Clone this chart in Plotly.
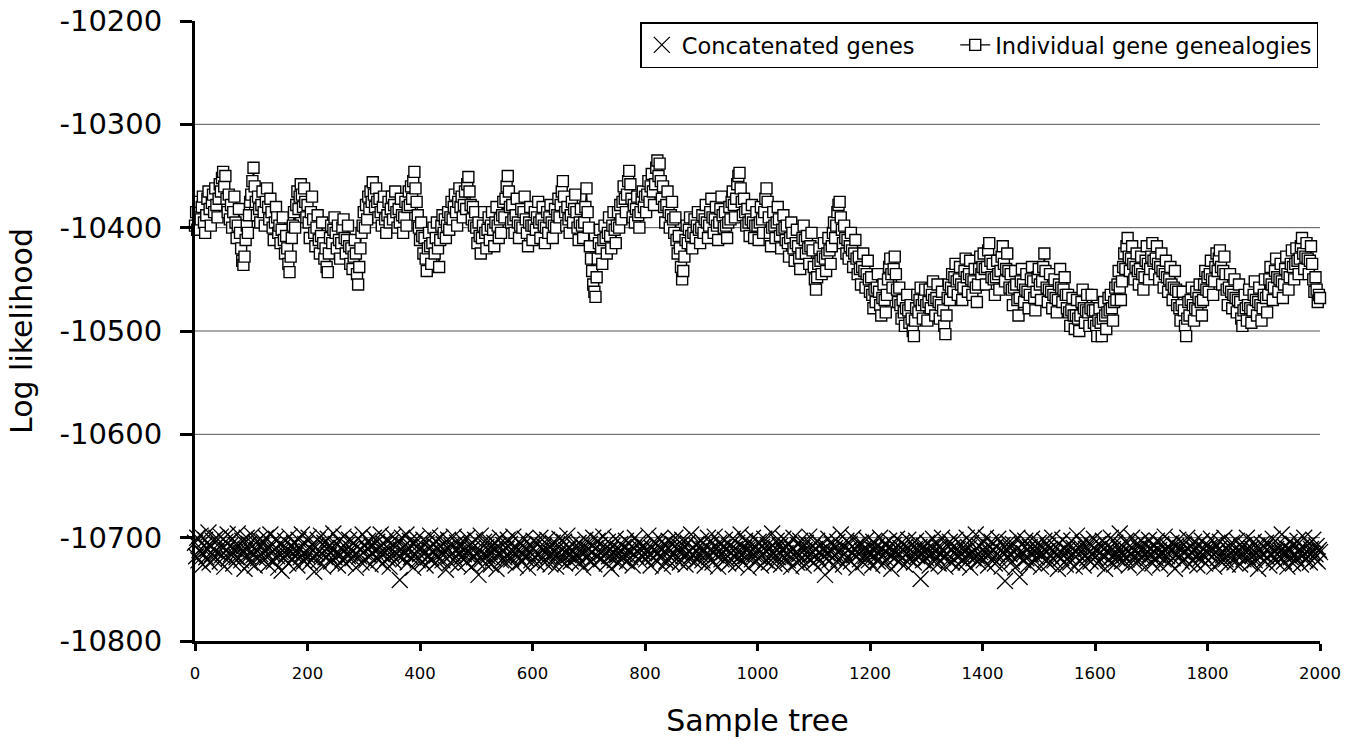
import plotly.graph_objects as go

sample_step = 2
x_tick_vals = [0, 200, 400, 600, 800, 1000, 1200, 1400, 1600, 1800, 2000]
y_tick_vals = [-10800, -10700, -10600, -10500, -10400, -10300, -10200]
y_tick_text = ["-10800", "-10700", "-10600", "-10500", "-10400", "-10300", "-10200"]
grid_vals = [-10700, -10600, -10500, -10400, -10300]

individual = [
    -10398,-10385,-10402,-10390,-10375,-10392,-10380,-10370,-10395,-10405,-10388,-10372,-10365,-10382,-10398,-10376,-10368,-10385,-10362,-10378,-10390,-10372,-10358,-10365,-10352,
    -10346,-10360,-10350,-10372,-10385,-10368,-10392,-10378,-10400,-10385,-10370,-10395,-10410,-10398,-10382,-10405,-10420,-10432,-10436,-10428,-10412,-10398,-10405,-10388,-10375,
    -10368,-10355,-10342,-10360,-10375,-10388,-10370,-10382,-10395,-10378,-10365,-10385,-10398,-10375,-10362,-10380,-10392,-10372,-10385,-10400,-10412,-10395,-10380,-10390,-10405,
    -10398,-10415,-10402,-10390,-10412,-10425,-10408,-10420,-10435,-10443,-10428,-10410,-10398,-10385,-10400,-10378,-10365,-10382,-10370,-10358,-10368,-10380,-10362,-10375,-10390,
    -10378,-10395,-10410,-10385,-10370,-10392,-10405,-10418,-10400,-10388,-10412,-10425,-10408,-10395,-10415,-10430,-10420,-10438,-10443,-10425,-10410,-10398,-10415,-10402,-10390,
    -10405,-10420,-10398,-10412,-10430,-10415,-10400,-10392,-10410,-10425,-10412,-10398,-10418,-10435,-10420,-10440,-10428,-10412,-10425,-10445,-10455,-10438,-10420,-10405,-10398,
    -10385,-10400,-10378,-10392,-10370,-10382,-10365,-10375,-10356,-10368,-10380,-10362,-10375,-10390,-10372,-10385,-10398,-10380,-10370,-10392,-10405,-10388,-10375,-10395,-10382,
    -10370,-10392,-10378,-10365,-10385,-10400,-10382,-10395,-10372,-10388,-10405,-10390,-10375,-10398,-10380,-10365,-10378,-10360,-10372,-10355,-10346,-10362,-10375,-10388,-10400,
    -10412,-10395,-10408,-10425,-10410,-10430,-10442,-10420,-10405,-10418,-10435,-10415,-10400,-10425,-10410,-10395,-10420,-10438,-10412,-10398,-10388,-10405,-10392,-10410,-10398,
    -10385,-10402,-10390,-10375,-10392,-10380,-10368,-10385,-10398,-10375,-10362,-10380,-10370,-10390,-10378,-10365,-10382,-10358,-10351,-10365,-10378,-10392,-10380,-10398,-10385,
    -10400,-10415,-10395,-10408,-10425,-10410,-10398,-10385,-10405,-10420,-10402,-10390,-10412,-10398,-10385,-10402,-10418,-10395,-10380,-10398,-10410,-10392,-10405,-10388,-10375,
    -10390,-10372,-10360,-10350,-10365,-10380,-10395,-10378,-10392,-10405,-10388,-10372,-10395,-10410,-10398,-10382,-10400,-10385,-10370,-10392,-10405,-10418,-10395,-10380,-10398,
    -10412,-10398,-10385,-10402,-10390,-10375,-10395,-10410,-10392,-10380,-10398,-10415,-10400,-10385,-10405,-10390,-10378,-10395,-10410,-10398,-10382,-10400,-10388,-10372,-10390,
    -10378,-10365,-10355,-10370,-10385,-10398,-10380,-10392,-10405,-10388,-10375,-10395,-10382,-10368,-10385,-10400,-10412,-10395,-10382,-10398,-10410,-10395,-10380,-10362,-10385,
    -10400,-10418,-10430,-10442,-10455,-10462,-10467,-10448,-10430,-10415,-10402,-10420,-10435,-10412,-10398,-10410,-10425,-10405,-10390,-10408,-10420,-10398,-10385,-10402,-10415,
    -10398,-10385,-10400,-10378,-10392,-10375,-10360,-10372,-10385,-10368,-10355,-10345,-10358,-10372,-10390,-10378,-10395,-10382,-10370,-10388,-10400,-10385,-10372,-10365,-10380,
    -10370,-10385,-10368,-10355,-10375,-10360,-10348,-10365,-10378,-10358,-10342,-10335,-10350,-10338,-10355,-10372,-10360,-10380,-10395,-10378,-10365,-10385,-10400,-10388,-10375,
    -10392,-10405,-10390,-10412,-10425,-10408,-10420,-10438,-10450,-10442,-10428,-10412,-10398,-10415,-10402,-10390,-10408,-10420,-10405,-10392,-10410,-10398,-10385,-10402,-10415,
    -10400,-10388,-10405,-10392,-10378,-10395,-10410,-10398,-10385,-10372,-10390,-10405,-10392,-10380,-10398,-10412,-10395,-10382,-10370,-10388,-10400,-10385,-10398,-10410,-10395,
    -10380,-10392,-10375,-10365,-10378,-10390,-10372,-10358,-10350,-10347,-10362,-10375,-10388,-10372,-10385,-10398,-10382,-10395,-10408,-10392,-10378,-10395,-10410,-10398,-10385,
    -10398,-10412,-10395,-10380,-10392,-10405,-10385,-10372,-10362,-10375,-10390,-10405,-10418,-10400,-10385,-10398,-10410,-10395,-10380,-10392,-10408,-10420,-10402,-10388,-10400,
    -10412,-10398,-10415,-10428,-10410,-10395,-10405,-10420,-10432,-10415,-10402,-10418,-10430,-10440,-10425,-10410,-10398,-10412,-10425,-10408,-10420,-10435,-10418,-10405,-10422,
    -10438,-10450,-10460,-10448,-10435,-10420,-10432,-10445,-10428,-10415,-10430,-10442,-10425,-10410,-10422,-10435,-10418,-10405,-10395,-10410,-10398,-10385,-10378,-10375,-10390,
    -10402,-10415,-10398,-10410,-10425,-10412,-10430,-10418,-10405,-10422,-10438,-10425,-10412,-10430,-10445,-10428,-10440,-10455,-10438,-10425,-10442,-10458,-10445,-10432,-10450,
    -10462,-10448,-10465,-10478,-10460,-10472,-10458,-10445,-10462,-10475,-10485,-10468,-10455,-10470,-10482,-10465,-10450,-10438,-10430,-10445,-10458,-10440,-10428,-10445,-10460,
    -10472,-10458,-10475,-10488,-10470,-10482,-10495,-10478,-10465,-10480,-10492,-10475,-10488,-10500,-10505,-10490,-10478,-10465,-10482,-10470,-10458,-10475,-10488,-10470,-10460,
    -10475,-10490,-10472,-10460,-10478,-10465,-10452,-10470,-10485,-10468,-10455,-10472,-10488,-10475,-10462,-10480,-10495,-10503,-10485,-10468,-10455,-10470,-10458,-10445,-10462,
    -10448,-10435,-10452,-10465,-10450,-10438,-10455,-10470,-10458,-10442,-10430,-10448,-10462,-10445,-10432,-10450,-10465,-10452,-10440,-10458,-10472,-10455,-10440,-10428,-10445,
    -10438,-10425,-10440,-10455,-10438,-10422,-10415,-10432,-10448,-10435,-10450,-10465,-10448,-10432,-10445,-10460,-10442,-10428,-10418,-10435,-10452,-10440,-10425,-10442,-10458,
    -10445,-10460,-10475,-10458,-10442,-10455,-10470,-10485,-10468,-10452,-10440,-10455,-10472,-10460,-10445,-10462,-10478,-10465,-10450,-10438,-10452,-10468,-10480,-10462,-10448,
    -10440,-10455,-10470,-10452,-10438,-10425,-10442,-10458,-10472,-10460,-10445,-10462,-10478,-10465,-10450,-10468,-10482,-10470,-10455,-10440,-10458,-10472,-10460,-10448,-10465,
    -10478,-10465,-10482,-10495,-10480,-10468,-10485,-10498,-10485,-10470,-10488,-10500,-10485,-10472,-10460,-10478,-10492,-10480,-10465,-10482,-10495,-10478,-10465,-10480,-10492,
    -10480,-10495,-10505,-10490,-10478,-10492,-10505,-10488,-10472,-10485,-10498,-10482,-10468,-10480,-10465,-10478,-10490,-10472,-10458,-10470,-10455,-10442,-10458,-10470,-10452,
    -10438,-10425,-10440,-10418,-10410,-10428,-10442,-10430,-10418,-10435,-10450,-10438,-10425,-10442,-10455,-10440,-10428,-10445,-10460,-10448,-10432,-10418,-10435,-10450,-10440,
    -10428,-10415,-10432,-10445,-10430,-10418,-10435,-10450,-10438,-10425,-10442,-10458,-10445,-10432,-10448,-10462,-10450,-10438,-10455,-10470,-10458,-10442,-10460,-10475,-10462,
    -10478,-10490,-10475,-10462,-10480,-10495,-10505,-10488,-10472,-10485,-10470,-10458,-10475,-10490,-10478,-10462,-10480,-10468,-10455,-10472,-10485,-10470,-10455,-10442,-10460,
    -10448,-10462,-10445,-10432,-10450,-10465,-10452,-10438,-10425,-10442,-10430,-10422,-10438,-10455,-10442,-10428,-10445,-10460,-10475,-10458,-10445,-10462,-10478,-10465,-10450,
    -10468,-10482,-10470,-10455,-10472,-10488,-10495,-10480,-10465,-10478,-10490,-10475,-10460,-10478,-10492,-10480,-10465,-10452,-10470,-10485,-10472,-10458,-10475,-10490,-10478,
    -10465,-10450,-10468,-10482,-10465,-10450,-10438,-10455,-10470,-10458,-10442,-10430,-10448,-10462,-10450,-10435,-10452,-10468,-10455,-10440,-10428,-10445,-10460,-10448,-10435,
    -10422,-10438,-10450,-10435,-10420,-10432,-10445,-10430,-10418,-10410,-10425,-10440,-10428,-10415,-10430,-10445,-10432,-10418,-10435,-10450,-10462,-10448,-10460,-10472,-10465,
    -10468,
]

concatenated = [
    -10705,-10718,-10700,-10722,-10712,-10698,-10715,-10726,-10708,-10702,-10719,-10711,-10695,-10724,-10709,-10716,-10703,-10721,-10713,-10700,-10714,-10706,-10723,-10699,-10717,
    -10710,-10728,-10704,-10712,-10697,-10720,-10708,-10716,-10701,-10725,-10711,-10707,-10719,-10696,-10713,-10709,-10722,-10703,-10715,-10730,-10711,-10700,-10718,-10706,-10724,
    -10713,-10698,-10717,-10727,-10705,-10712,-10720,-10702,-10716,-10708,-10721,-10704,-10713,-10700,-10719,-10726,-10710,-10697,-10715,-10707,-10723,-10712,-10701,-10718,-10729,
    -10706,-10714,-10732,-10709,-10720,-10703,-10716,-10711,-10725,-10699,-10714,-10708,-10721,-10705,-10717,-10712,-10727,-10702,-10710,-10719,-10697,-10715,-10723,-10706,-10713,
    -10718,-10700,-10724,-10711,-10707,-10720,-10733,-10709,-10715,-10702,-10722,-10713,-10698,-10716,-10728,-10705,-10719,-10710,-10701,-10717,-10708,-10723,-10712,-10696,-10719,
    -10706,-10714,-10727,-10703,-10716,-10710,-10721,-10699,-10713,-10725,-10707,-10718,-10702,-10715,-10711,-10720,-10705,-10716,-10729,-10709,-10701,-10718,-10712,-10724,-10697,
    -10714,-10707,-10722,-10711,-10703,-10717,-10726,-10708,-10715,-10700,-10713,-10719,-10704,-10722,-10710,-10697,-10716,-10725,-10706,-10714,-10702,-10720,-10711,-10728,-10705,
    -10717,-10699,-10723,-10709,-10715,-10704,-10718,-10741,-10712,-10700,-10721,-10708,-10715,-10697,-10724,-10710,-10703,-10719,-10713,-10729,-10706,-10717,-10701,-10722,-10711,
    -10716,-10709,-10723,-10702,-10714,-10727,-10705,-10719,-10711,-10698,-10720,-10713,-10707,-10725,-10703,-10717,-10710,-10721,-10700,-10715,-10722,-10706,-10713,-10731,-10710,
    -10702,-10718,-10724,-10708,-10715,-10699,-10720,-10712,-10705,-10726,-10714,-10709,-10719,-10703,-10716,-10711,-10724,-10700,-10717,-10713,-10706,-10728,-10710,-10719,-10702,
    -10715,-10723,-10736,-10712,-10698,-10721,-10716,-10704,-10725,-10709,-10718,-10703,-10714,-10726,-10709,-10720,-10705,-10712,-10730,-10708,-10716,-10700,-10722,-10713,-10707,
    -10719,-10724,-10711,-10702,-10717,-10706,-10721,-10712,-10699,-10715,-10727,-10710,-10718,-10704,-10713,-10723,-10708,-10716,-10701,-10720,-10711,-10729,-10707,-10714,-10722,
    -10710,-10703,-10719,-10713,-10725,-10706,-10716,-10700,-10721,-10712,-10708,-10724,-10714,-10702,-10718,-10709,-10726,-10715,-10705,-10720,-10713,-10728,-10707,-10716,-10701,
    -10722,-10711,-10718,-10704,-10725,-10712,-10698,-10717,-10710,-10723,-10706,-10714,-10721,-10709,-10716,-10719,-10705,-10724,-10712,-10708,-10729,-10715,-10702,-10720,-10711,
    -10717,-10706,-10723,-10714,-10700,-10726,-10710,-10718,-10703,-10713,-10707,-10721,-10714,-10699,-10716,-10710,-10725,-10704,-10718,-10712,-10730,-10708,-10715,-10722,-10701,
    -10717,-10711,-10724,-10706,-10713,-10720,-10709,-10716,-10703,-10723,-10712,-10706,-10719,-10714,-10727,-10710,-10700,-10718,-10713,-10705,-10722,-10711,-10717,-10708,-10715,
    -10709,-10721,-10714,-10698,-10716,-10727,-10710,-10719,-10704,-10713,-10722,-10708,-10715,-10701,-10720,-10711,-10728,-10706,-10714,-10723,-10710,-10703,-10718,-10712,-10725,
    -10706,-10716,-10700,-10721,-10712,-10708,-10724,-10714,-10702,-10718,-10709,-10726,-10715,-10705,-10720,-10713,-10697,-10717,-10710,-10723,-10707,-10714,-10721,-10709,-10716,
    -10703,-10722,-10711,-10727,-10708,-10715,-10700,-10719,-10712,-10706,-10724,-10713,-10699,-10717,-10710,-10728,-10705,-10716,-10721,-10709,-10714,-10702,-10720,-10711,-10725,
    -10708,-10715,-10722,-10701,-10717,-10711,-10726,-10705,-10713,-10719,-10697,-10716,-10724,-10710,-10703,-10718,-10712,-10729,-10707,-10714,-10721,-10700,-10716,-10709,-10723,
    -10712,-10704,-10719,-10727,-10709,-10715,-10701,-10722,-10713,-10707,-10724,-10711,-10718,-10696,-10716,-10725,-10710,-10703,-10719,-10714,-10708,-10726,-10712,-10701,-10720,
    -10715,-10709,-10722,-10706,-10713,-10728,-10711,-10700,-10718,-10714,-10724,-10707,-10716,-10703,-10721,-10710,-10727,-10712,-10705,-10719,-10713,-10699,-10722,-10716,-10708,
    -10724,-10711,-10717,-10703,-10720,-10714,-10707,-10725,-10712,-10718,-10736,-10709,-10715,-10701,-10722,-10713,-10706,-10719,-10728,-10710,-10716,-10704,-10721,-10712,-10697,
    -10718,-10726,-10709,-10715,-10703,-10720,-10712,-10706,-10723,-10714,-10700,-10717,-10711,-10729,-10707,-10716,-10721,-10705,-10713,-10724,-10710,-10718,-10702,-10715,-10722,
    -10709,-10716,-10727,-10704,-10712,-10719,-10708,-10723,-10713,-10700,-10718,-10711,-10725,-10706,-10714,-10721,-10710,-10703,-10717,-10730,-10712,-10707,-10720,-10714,-10701,
    -10716,-10723,-10710,-10705,-10719,-10713,-10726,-10708,-10715,-10702,-10721,-10712,-10717,-10706,-10724,-10711,-10703,-10718,-10714,-10709,-10740,-10715,-10722,-10708,-10713,
    -10720,-10705,-10714,-10727,-10709,-10716,-10701,-10723,-10712,-10718,-10706,-10725,-10710,-10715,-10700,-10719,-10713,-10728,-10707,-10716,-10722,-10704,-10711,-10724,-10709,
    -10714,-10702,-10718,-10711,-10726,-10706,-10716,-10721,-10709,-10713,-10724,-10700,-10717,-10710,-10729,-10705,-10715,-10720,-10712,-10697,-10718,-10723,-10708,-10714,-10719,
    -10706,-10722,-10713,-10700,-10717,-10727,-10709,-10715,-10704,-10720,-10712,-10725,-10708,-10716,-10701,-10721,-10713,-10728,-10707,-10714,-10742,-10711,-10719,-10705,-10716,
    -10710,-10723,-10706,-10714,-10729,-10712,-10700,-10718,-10738,-10713,-10707,-10722,-10715,-10703,-10720,-10711,-10726,-10709,-10716,-10701,-10724,-10713,-10708,-10719,-10712,
    -10705,-10717,-10728,-10710,-10716,-10703,-10721,-10713,-10708,-10725,-10711,-10718,-10700,-10714,-10722,-10709,-10716,-10730,-10706,-10713,-10720,-10702,-10717,-10711,-10726,
    -10712,-10707,-10719,-10724,-10703,-10715,-10710,-10728,-10714,-10698,-10716,-10722,-10709,-10713,-10705,-10727,-10718,-10711,-10720,-10704,-10714,-10723,-10708,-10716,-10701,
    -10719,-10712,-10725,-10706,-10715,-10721,-10709,-10703,-10717,-10730,-10713,-10708,-10722,-10714,-10700,-10718,-10711,-10726,-10705,-10716,-10720,-10710,-10696,-10715,-10723,
    -10709,-10717,-10704,-10721,-10713,-10727,-10708,-10715,-10700,-10719,-10712,-10724,-10706,-10716,-10710,-10722,-10703,-10718,-10713,-10729,-10707,-10714,-10720,-10702,-10716,
    -10711,-10725,-10708,-10714,-10720,-10703,-10717,-10712,-10727,-10706,-10715,-10721,-10699,-10713,-10718,-10709,-10724,-10712,-10705,-10720,-10714,-10730,-10708,-10716,-10702,
    -10719,-10710,-10723,-10714,-10706,-10721,-10713,-10700,-10717,-10726,-10709,-10715,-10722,-10704,-10712,-10718,-10727,-10707,-10714,-10720,-10703,-10716,-10711,-10725,-10708,
    -10715,-10722,-10709,-10701,-10718,-10712,-10728,-10706,-10714,-10720,-10711,-10704,-10723,-10713,-10717,-10700,-10721,-10710,-10726,-10708,-10715,-10719,-10705,-10713,-10724,
    -10711,-10703,-10718,-10714,-10726,-10709,-10716,-10721,-10707,-10713,-10700,-10719,-10712,-10725,-10710,-10717,-10704,-10722,-10715,-10708,-10730,-10713,-10719,-10706,-10716,
    -10722,-10710,-10705,-10719,-10713,-10727,-10708,-10716,-10701,-10720,-10714,-10711,-10724,-10706,-10718,-10712,-10697,-10715,-10723,-10709,-10716,-10728,-10711,-10704,-10719,
    -10713,-10725,-10707,-10716,-10720,-10703,-10714,-10711,-10726,-10709,-10717,-10700,-10722,-10713,-10718,-10706,-10724,-10711,-10715,-10702,-10720,-10716,-10708,-10723,-10712,
    -10714,
]

x_ind = [i * sample_step for i in range(len(individual))]
x_con = [i * sample_step for i in range(len(concatenated))]

FONT = "DejaVu Sans, Liberation Sans, Arial, sans-serif"
NB = "\u00a0"

fig = go.Figure()
fig.add_trace(go.Scatter(
    x=x_con, y=concatenated, mode="markers", name="Concatenated genes" + NB * 5,
    cliponaxis=False,
    marker=dict(symbol="x-thin", size=16, color="black",
                line=dict(color="black", width=1.3)),
))
fig.add_trace(go.Scatter(
    x=x_ind, y=individual, mode="lines+markers", name="Individual gene genealogies",
    cliponaxis=False,
    line=dict(color="black", width=1.2),
    marker=dict(symbol="square", size=11, color="white",
                line=dict(color="black", width=1.4)),
))

for g in grid_vals:
    fig.add_hline(y=g, line=dict(color="#555555", width=1), layer="below")

fig.update_layout(
    width=1353, height=740,
    paper_bgcolor="white", plot_bgcolor="white",
    margin=dict(l=195, r=33, t=21, b=99, autoexpand=False),
    font=dict(family=FONT, color="black"),
    showlegend=True,
    legend=dict(
        orientation="h", x=0.9985, xanchor="right", y=0.998, yanchor="top",
        bordercolor="black", borderwidth=1.5, bgcolor="white",
        font=dict(size=22.5, family=FONT), itemwidth=30,
    ),
    xaxis=dict(
        range=[0, 2000], tickvals=x_tick_vals, ticks="outside", ticklen=7,
        tickwidth=3, tickcolor="black", showgrid=False, automargin=False,
        zeroline=False, showline=True, linecolor="black", linewidth=3,
        ticklabelstandoff=8, ticklabeloverflow="allow",
        tickfont=dict(size=16.5), title=dict(text="Sample tree", font=dict(size=30), standoff=29),
    ),
    yaxis=dict(
        range=[-10800, -10200], tickvals=y_tick_vals, ticktext=y_tick_text,
        ticks="outside", ticklen=12, automargin=False,
        tickwidth=3, tickcolor="black", showgrid=False, zeroline=False,
        showline=True, linecolor="black", linewidth=3, ticklabelstandoff=12,
        ticklabeloverflow="allow",
        tickfont=dict(size=29), title=dict(text="Log likelihood", font=dict(size=30), standoff=18),
    ),
)

# remove the browser's default 8px body margin so the figure fills the window exactly
fig.write_html(
    "out.html",
    config={"displayModeBar": False},
    post_script="document.body.style.margin='0';document.body.style.overflow='hidden';",
)
